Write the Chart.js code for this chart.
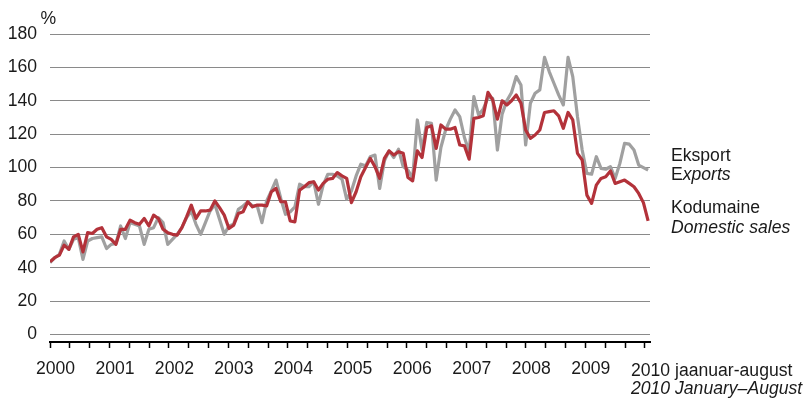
<!DOCTYPE html>
<html lang="et">
<head>
<meta charset="UTF-8">
<title>Eksport ja kodumaine müük</title>
<script src="https://cdn.jsdelivr.net/npm/chart.js"></script>
<style>
  html, body { margin: 0; padding: 0; background: #fff; }
</style>
</head>
<body>
<canvas id="myChart" width="805" height="401"></canvas>
<script>
// monthly index, 2000 January .. 2010 August
const years = ['2000', '2001', '2002', '2003', '2004', '2005', '2006', '2007', '2008', '2009'];
const yTicks = [0, 20, 40, 60, 80, 100, 120, 140, 160, 180];

const domestic = [
  43.5, 46, 47.5, 53.5, 51, 58.5, 60, 49.5, 61, 60.5, 63, 64,
  58.5, 57, 54, 63, 63, 68.5, 67, 66, 69.5, 65, 71.5, 69.5,
  63, 61, 60, 59.5, 64, 70.5, 77.5, 69.5, 74, 74, 74.5, 80,
  76, 71.5, 63.5, 65.5, 72.5, 73.5, 79.5, 76.5, 77.5, 77.5, 77, 85.5,
  87.5, 79.5, 79.5, 68, 67.5, 86.5, 88.5, 91, 91.5, 86.5, 90.5, 93,
  93.5, 97, 95, 93.5, 79, 85.5, 94.5, 100, 105.5, 100.5, 93.5, 105.5,
  110, 107.5, 109.5, 108.5, 94, 92, 110, 106, 124, 125, 111.5, 125.5,
  123, 123, 124, 113.5, 113, 105, 129.5, 130, 131, 145, 140.5, 129,
  140, 137.5, 140, 143.5, 138.5, 122.5, 117.5, 119.5, 122.5, 133, 133.5, 134,
  131, 123.5, 133, 128.5, 108.5, 104.5, 83.5, 78.5, 89.5, 93.5, 94.5, 98,
  90.5, 91.5, 92.5, 90.5, 88.5, 84.5, 79, 68
];

const exportsIdx = [
  43, 46, 48, 56, 51, 57, 58, 45, 56, 57.5, 58, 58.5,
  51.5, 54, 54.5, 65, 57.5, 67, 66, 65, 54, 63, 64, 70,
  67, 54, 57, 60, 64, 70, 74, 66, 60, 67, 74, 78,
  69, 60, 65, 66, 75, 77, 79.5, 77, 77, 67, 80, 86,
  92.5, 81.5, 72, 73.5, 76.5, 90, 88.5, 88.5, 91.5, 78, 89.5, 96,
  96, 95, 93, 81, 86, 95, 102, 101, 106.5, 107.5, 87.5, 104,
  110, 106, 111, 100.5, 98.5, 93.5, 128.5, 110.5, 127, 126.5, 92.5, 112,
  122.5, 129, 134.5, 130.5, 118, 109.5, 142.5, 131.5, 135, 142, 141.5, 110.5,
  132, 140, 145, 154.5, 149.5, 113.5, 138.5, 144.5, 146.5, 166, 157.5, 150.5,
  143.5, 137.5, 166, 154.5, 130.5, 110.5, 96.5, 96, 106.5, 99.5, 99, 100.5,
  93.5, 102.5, 114.5, 114, 110.5, 101.5, 100, 98.5
];

const FONT = "'Liberation Sans', Arial, sans-serif";
const INK = '#1a1a1a';

// texts that are not part of an axis: unit, series names, last period note
const notes = {
  id: 'notes',
  afterDraw(chart) {
    const c = chart.ctx;
    c.save();
    c.fillStyle = INK;
    c.textBaseline = 'alphabetic';
    c.textAlign = 'left';
    c.font = '17.6px ' + FONT;
    c.fillText('%', 40.5, 24);
    c.fillText('Eksport', 671, 161);
    c.fillText('E', 671, 180);
    const w = c.measureText('E').width;
    c.fillText('Kodumaine', 671, 213);
    c.fillText('2010 jaanuar-august', 631, 375.5);
    c.font = 'italic 17.6px ' + FONT;
    c.fillText('xports', 671 + w, 180);
    c.fillText('Domestic sales', 671, 232.5);
    c.fillText('2010 January\u2013August', 631, 394);
    c.restore();
  }
};

const ctx = document.getElementById('myChart').getContext('2d');
new Chart(ctx, {
  type: 'line',
  data: {
    datasets: [{
      label: 'Kodumaine',
      data: domestic.map((v, i) => ({x: i, y: v})),
      borderColor: '#b3323a',
      borderWidth: 3.2,
      pointRadius: 0,
      tension: 0,
      borderJoinStyle: 'round',
      xAxisID: 'x',
      yAxisID: 'y'
    }, {
      label: 'Eksport',
      data: exportsIdx.map((v, i) => ({x: i, y: v})),
      borderColor: '#a0a0a0',
      borderWidth: 3.2,
      pointRadius: 0,
      tension: 0,
      borderJoinStyle: 'round',
      xAxisID: 'x',
      yAxisID: 'y'
    }]
  },
  options: {
    responsive: false,
    animation: false,
    layout: { padding: { top: 34, right: 155, bottom: 0, left: 0 } },
    plugins: { legend: { display: false }, tooltip: { enabled: false } },
    scales: {
      x: {
        type: 'linear',
        position: 'bottom',
        min: 0,
        max: 127.4,
        afterBuildTicks: s => {
          s.ticks = [];
          for (let k = 0; k <= 30; k++) s.ticks.push({value: k * 4.211});
        },
        afterFit: s => { s.height = 7; },
        ticks: { display: false },
        grid: { drawOnChartArea: false, drawTicks: true, tickLength: 6, tickColor: '#000', tickWidth: 1.5 },
        border: { display: true, color: '#000', width: 2 }
      },
      xl: {
        type: 'linear',
        position: 'bottom',
        min: 0,
        max: 127.4,
        afterBuildTicks: s => {
          s.ticks = years.map((y, k) => ({value: 1.168 + 12.627 * k}));
        },
        afterFit: s => { s.height = 52; },
        ticks: {
          padding: 10,
          maxRotation: 0,
          autoSkip: false,
          color: INK,
          font: { family: FONT, size: 17.6 },
          callback: (v, i) => years[i]
        },
        grid: { display: false, drawTicks: false },
        border: { display: false }
      },
      y: {
        min: -4.5,
        max: 180,
        afterBuildTicks: s => { s.ticks = yTicks.map(v => ({value: v})); },
        afterFit: s => { s.width = 50; },
        ticks: { padding: 13, color: INK, font: { family: FONT, size: 17.6 } },
        grid: { color: '#8a8a8a', lineWidth: 1, drawTicks: false },
        border: { display: false }
      }
    }
  },
  plugins: [notes]
});
</script>
</body>
</html>
